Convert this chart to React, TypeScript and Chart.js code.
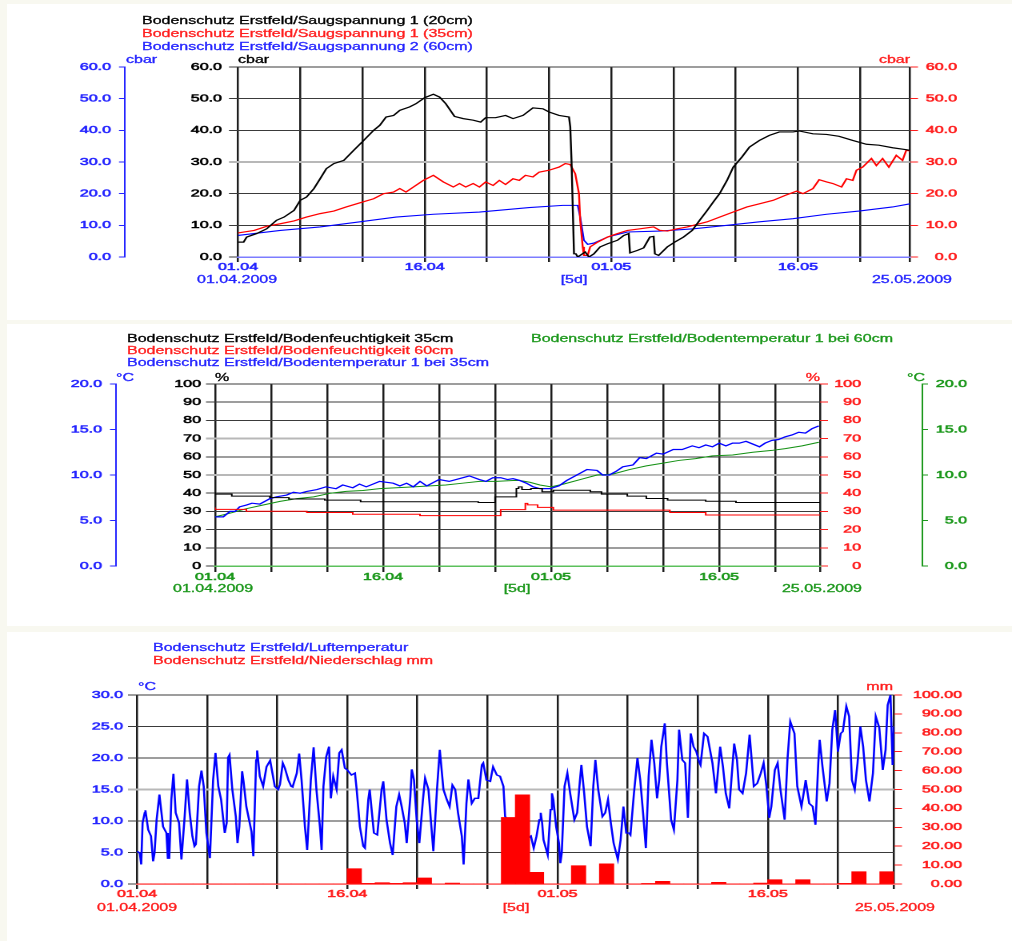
import React, { useEffect, useRef } from 'react';
import { Chart, registerables } from 'chart.js';

Chart.register(...registerables);

// ---------------- data ----------------
const xGridDays = [0, 5, 10, 15, 20, 25, 30, 35, 40, 45, 50, 54];
const xLabelDays = [0, 15, 30, 45];
const xLabelTexts = ['01.04', '16.04', '01.05', '16.05'];
const dateStartText = '01.04.2009';
const dateStepText = '[5d]';
const dateEndText = '25.05.2009';

const legendPanel1 = [
  'Bodenschutz Erstfeld/Saugspannung 1 (20cm)',
  'Bodenschutz Erstfeld/Saugspannung 1 (35cm)',
  'Bodenschutz Erstfeld/Saugspannung 2 (60cm)',
];
const legendPanel2 = [
  'Bodenschutz Erstfeld/Bodenfeuchtigkeit 35cm',
  'Bodenschutz Erstfeld/Bodenfeuchtigkeit 60cm',
  'Bodenschutz Erstfeld/Bodentemperatur 1 bei 35cm',
  'Bodenschutz Erstfeld/Bodentemperatur 1 bei 60cm',
];
const legendPanel3 = ['Bodenschutz Erstfeld/Luftemperatur', 'Bodenschutz Erstfeld/Niederschlag mm'];

// Panel 1: Saugspannung [day, cbar]
const saug20cm = [
  [0, 4.7], [0.45, 4.7], [0.7, 6.3], [1.5, 7.4], [2.3, 8.9], [3.1, 11.6], [3.7, 12.6], [4.5, 14.7], [5.0, 17.9],
  [5.5, 18.9], [6.1, 21.6], [6.6, 24.7], [7.1, 27.9], [7.7, 29.5], [8.5, 30.5], [9.3, 33.7], [10.1, 36.8],
  [10.9, 40.0], [11.4, 41.6], [11.9, 44.2], [12.5, 44.7], [13.0, 46.3], [13.8, 47.4], [14.3, 48.4], [15.0, 50.3],
  [15.7, 51.4], [16.2, 50.5], [16.7, 48.4], [17.4, 44.4], [18.1, 43.7], [18.9, 43.2], [19.5, 42.6], [19.9, 44.0],
  [20.7, 44.0], [21.5, 44.7], [22.1, 43.7], [22.9, 44.7], [23.7, 47.1], [24.5, 46.8], [25.0, 45.8], [25.8, 44.7],
  [26.6, 44.2], [26.7, 41.1], [26.8, 30.5], [27.0, 1.0], [27.15, 1.0], [27.3, 0], [27.9, 1.6], [28.2, 0],
  [28.6, 1.0], [29.1, 3.2], [29.7, 4.2], [30.5, 5.3], [31.0, 6.8], [31.4, 7.4], [31.5, 1.3], [32.1, 2.1],
  [32.6, 2.9], [33.1, 6.3], [33.4, 6.5], [33.5, 1.0], [33.8, 0.5], [34.5, 3.2], [35.1, 4.7], [35.8, 6.3],
  [36.5, 8.4], [37.1, 11.6], [37.7, 14.7], [38.2, 17.4], [38.7, 20.0], [39.3, 24.2], [39.8, 28.4], [40.5, 31.6],
  [41.1, 34.7], [41.9, 36.8], [42.7, 38.4], [43.5, 39.5], [44.6, 39.5], [45.1, 39.8], [46.2, 38.9], [47.3, 38.7],
  [48.3, 38.1], [49.4, 36.8], [50.5, 35.6], [51.5, 35.3], [52.6, 34.5], [53.7, 33.9], [54, 33.7],
];
const saug35cm = [
  [0, 7.6], [1.3, 8.4], [2.3, 9.7], [3.4, 10.5], [4.5, 11.4], [5.5, 12.6], [6.6, 13.7], [7.7, 14.5], [8.7, 15.8],
  [9.8, 17.1], [10.9, 18.4], [11.7, 20.0], [12.5, 20.5], [13.0, 21.6], [13.5, 20.5], [14.1, 22.1], [14.9, 24.2],
  [15.7, 25.8], [16.5, 23.7], [17.3, 22.1], [17.8, 23.2], [18.3, 22.1], [18.9, 23.2], [19.4, 22.1], [19.9, 23.7],
  [20.5, 22.6], [21.0, 24.2], [21.5, 22.9], [22.1, 24.7], [22.6, 24.2], [23.1, 25.8], [23.7, 25.3], [24.2, 26.8],
  [25.0, 27.4], [25.8, 28.4], [26.3, 29.5], [26.7, 29.2], [27.1, 26.3], [27.4, 20.0], [27.5, 11.6], [27.7, 3.2],
  [27.8, 0.5], [28.1, 0.5], [28.3, 3.2], [28.9, 4.7], [29.7, 6.3], [30.5, 7.4], [31.3, 8.4], [32.3, 8.9],
  [33.4, 9.5], [33.9, 8.4], [34.5, 8.2], [35.3, 8.9], [36.1, 9.5], [36.6, 10.0], [37.7, 11.1], [38.7, 12.6],
  [39.8, 14.2], [40.9, 15.8], [41.9, 16.8], [43.0, 17.9], [44.0, 19.5], [44.9, 20.8], [45.4, 20.0], [46.2, 21.6],
  [46.7, 24.4], [47.3, 23.7], [47.8, 23.2], [48.5, 22.1], [48.9, 24.7], [49.4, 24.2], [49.7, 27.4], [50.2, 28.4],
  [50.9, 31.1], [51.3, 28.9], [51.8, 31.1], [52.3, 28.4], [52.9, 32.1], [53.4, 30.5], [53.7, 33.7], [54, 33.5],
];
const saug60cm = [
  [0, 6.8], [3.4, 8.4], [6.6, 9.5], [9.8, 11.1], [12.7, 12.6], [15.7, 13.5], [19.4, 14.2], [23.4, 15.6],
  [26.1, 16.3], [27.3, 16.3], [27.5, 12.6], [27.8, 5.3], [28.1, 4.0], [28.6, 4.4], [29.7, 6.3], [31.3, 7.9],
  [33.9, 8.2], [36.6, 8.9], [39.3, 10.0], [41.9, 11.1], [44.6, 12.1], [47.3, 13.5], [49.9, 14.5], [52.6, 15.8],
  [54, 16.8],
];

// Panel 2: Bodenfeuchtigkeit [day, %] (stepped) and Bodentemperatur [day, °C]
const feuchte35cm = [
  [0, 40.6], [1.5, 39.5], [4.9, 38.4], [6.6, 37.6], [9.8, 36.8], [13.0, 36.2], [23.5, 35.3], [25.0, 34.9],
  [26.9, 38.0], [27.1, 42.6], [27.4, 43.5], [28.2, 42.0], [29.2, 42.6], [30.2, 40.8], [33.5, 41.6], [34.5, 40.8],
  [36.8, 39.5], [38.5, 38.4], [40.4, 37.1], [43.8, 36.2], [46.5, 35.6], [48.5, 34.9], [54, 34.9],
];
const feuchte60cm = [
  [0, 32.2], [2.8, 31.1], [8.2, 30.1], [12.3, 29.4], [18.3, 28.4], [25.5, 27.7], [27.7, 31.0], [27.9, 34.4],
  [28.8, 33.6], [30.2, 32.2], [40.6, 30.7], [43.8, 29.4], [49.1, 28.0], [54, 28.0],
];
const temp35cm = [
  [0, 5.4], [0.74, 5.4], [1.34, 6.0], [1.8, 6.0], [2.2, 6.5], [2.8, 6.7], [3.3, 6.9], [4.0, 6.8], [4.9, 7.4],
  [5.5, 7.6], [6.4, 7.8], [7.0, 8.1], [7.6, 8.0], [8.2, 8.2], [9.1, 8.4], [9.9, 8.7], [10.8, 8.5], [11.4, 8.9],
  [12.3, 8.6], [12.9, 9.0], [13.5, 8.7], [14.7, 9.3], [15.9, 9.1], [16.5, 8.8], [17.1, 9.1], [17.7, 8.7],
  [18.3, 9.3], [18.9, 8.8], [20.0, 9.5], [20.9, 9.3], [21.8, 9.6], [22.7, 9.9], [23.6, 9.5], [24.2, 9.3],
  [24.8, 9.7], [25.5, 9.7], [26.1, 9.5], [26.6, 9.6], [27.2, 9.4], [27.8, 9.1], [28.4, 8.7], [29.0, 8.5],
  [29.9, 8.5], [30.7, 8.8], [31.4, 9.4], [32.0, 9.8], [32.6, 10.2], [33.2, 10.6], [34.1, 10.5], [34.6, 10.0],
  [35.2, 10.0], [35.8, 10.4], [36.4, 10.9], [37.3, 11.1], [37.9, 11.9], [38.5, 11.8], [39.4, 12.4], [40.0, 12.3],
  [40.9, 12.8], [41.7, 12.8], [42.6, 13.2], [43.2, 13.0], [43.8, 13.3], [44.4, 13.1], [45.0, 13.5], [45.6, 13.2],
  [46.2, 13.5], [46.8, 13.5], [47.4, 13.7], [48.0, 13.4], [48.6, 13.1], [49.1, 13.5], [49.7, 13.8], [50.3, 13.9],
  [50.9, 14.2], [51.5, 14.4], [52.1, 14.7], [52.7, 14.6], [53.3, 15.1], [53.9, 15.4],
];
const temp60cm = [
  [0, 5.4], [1.34, 5.8], [2.8, 6.3], [4.3, 6.7], [5.8, 7.1], [7.3, 7.4], [8.8, 7.6], [10.3, 8.0], [11.7, 8.2],
  [13.2, 8.3], [14.7, 8.5], [16.2, 8.6], [17.7, 8.7], [19.2, 8.8], [20.6, 8.9], [22.1, 9.1], [23.6, 9.3],
  [25.1, 9.3], [26.6, 9.4], [27.2, 9.4], [28.1, 9.2], [29.0, 8.9], [30.0, 8.7], [31.1, 9.0], [32.6, 9.5],
  [34.1, 10.0], [35.5, 10.1], [37.0, 10.6], [38.5, 11.0], [40.0, 11.3], [41.4, 11.6], [42.9, 11.8], [44.4, 12.1],
  [46.2, 12.2], [48.0, 12.5], [49.7, 12.7], [50.9, 12.9], [52.4, 13.2], [53.9, 13.6],
];

// Panel 3: Lufttemperatur [day, °C] and daily Niederschlag [mm]
const luftTemp = [
  [0, 5.2], [0.2, 4.9], [0.3, 3.1], [0.4, 9.7], [0.55, 11.3], [0.6, 11.7], [0.8, 8.6], [1.0, 7.6], [1.15, 3.6],
  [1.25, 4.9], [1.4, 10.2], [1.6, 14.2], [1.67, 12.8], [1.86, 9.1], [2.1, 8.1], [2.2, 4.1], [2.3, 4.1],
  [2.45, 13.4], [2.6, 17.5], [2.76, 11.3], [3.0, 9.7], [3.17, 3.9], [3.4, 10.7], [3.57, 16.6], [3.76, 11.3],
  [3.95, 7.6], [4.1, 6.0], [4.2, 6.3], [4.43, 15.5], [4.6, 18.0], [4.76, 15.5], [4.95, 8.1], [5.2, 4.1],
  [5.43, 16.5], [5.6, 20.8], [5.8, 15.5], [6.0, 13.4], [6.26, 8.1], [6.4, 9.7], [6.5, 20.1], [6.6, 20.5],
  [6.8, 15.0], [7.05, 10.7], [7.17, 6.5], [7.3, 9.1], [7.5, 17.9], [7.6, 16.3], [7.8, 12.3], [8.17, 8.3],
  [8.3, 4.4], [8.5, 19.7], [8.57, 21.2], [8.76, 17.1], [9.0, 15.5], [9.24, 18.6], [9.5, 19.6], [9.83, 15.5],
  [10.07, 15.0], [10.2, 15.8], [10.4, 19.2], [10.55, 18.4], [10.8, 16.5], [11.0, 15.5], [11.1, 15.4],
  [11.4, 17.6], [11.57, 20.7], [11.74, 16.5], [11.98, 9.1], [12.14, 5.4], [12.4, 16.5], [12.6, 21.7],
  [12.8, 15.0], [13.05, 9.1], [13.17, 5.4], [13.3, 15.5], [13.5, 20.2], [13.7, 21.8], [13.83, 13.6], [14.0, 17.1],
  [14.24, 15.0], [14.43, 20.8], [14.6, 21.3], [14.83, 18.4], [15.0, 18.1], [15.3, 17.3], [15.55, 17.6],
  [15.67, 15.0], [15.9, 9.1], [16.14, 6.0], [16.26, 5.7], [16.5, 13.4], [16.6, 15.0], [16.76, 11.3], [16.9, 8.1],
  [17.14, 7.8], [17.45, 15.0], [17.57, 16.3], [17.8, 10.2], [18.05, 6.5], [18.24, 4.6], [18.5, 12.3],
  [18.7, 14.2], [18.88, 12.3], [19.1, 9.7], [19.24, 6.5], [19.5, 13.9], [19.6, 18.2], [19.76, 16.5],
  [19.95, 10.2], [20.14, 6.5], [20.4, 13.4], [20.55, 16.8], [20.79, 15.0], [21.0, 9.1], [21.14, 5.2],
  [21.4, 15.0], [21.6, 21.3], [21.86, 15.0], [22.1, 13.4], [22.3, 12.3], [22.5, 15.7], [22.7, 15.0],
  [22.9, 11.3], [23.17, 7.6], [23.3, 3.1], [23.5, 12.8], [23.64, 16.6], [23.88, 12.8], [24.1, 13.6],
  [24.35, 13.6], [24.6, 18.9], [24.7, 19.2], [24.93, 16.5], [25.2, 16.3], [25.4, 18.6], [25.67, 17.3],
  [25.9, 17.1], [26.14, 15.5], [26.26, 10.7], [26.5, 10.2], [26.9, 9.0], [27.3, 8.0], [27.7, 7.0], [28.1, 7.6],
  [28.3, 5.7], [28.5, 7.6], [28.7, 10.2], [28.8, 11.3], [28.9, 9.7], [29.0, 7.0], [29.3, 4.6], [29.5, 11.8],
  [29.6, 14.4], [29.7, 13.4], [29.9, 9.1], [30.1, 6.5], [30.2, 3.3], [30.3, 4.9], [30.5, 15.5], [30.7, 17.6],
  [30.9, 14.4], [31.2, 10.2], [31.4, 11.3], [31.6, 16.5], [31.7, 18.9], [31.9, 14.4], [32.1, 9.1], [32.36, 6.0],
  [32.55, 15.5], [32.7, 19.7], [32.9, 15.0], [33.2, 10.7], [33.4, 11.3], [33.6, 13.4], [33.8, 9.7], [34.0, 6.5],
  [34.3, 3.9], [34.5, 7.0], [34.7, 12.3], [34.9, 8.1], [35.1, 8.1], [35.2, 7.8], [35.45, 14.4], [35.7, 20.0],
  [35.9, 16.5], [36.1, 11.3], [36.3, 5.7], [36.5, 17.1], [36.7, 22.9], [36.9, 19.2], [37.1, 13.6], [37.25, 16.5],
  [37.4, 21.8], [37.65, 25.5], [37.8, 19.2], [38.1, 10.2], [38.3, 8.6], [38.55, 16.5], [38.67, 24.5],
  [38.9, 19.7], [39.1, 19.2], [39.3, 10.5], [39.5, 23.9], [39.7, 21.8], [39.9, 21.0], [40.1, 19.4], [40.2, 18.9],
  [40.45, 23.9], [40.7, 23.4], [41.05, 19.2], [41.3, 14.4], [41.45, 18.1], [41.6, 21.8], [41.8, 18.6],
  [42.0, 14.4], [42.25, 12.0], [42.4, 16.5], [42.6, 22.3], [42.8, 19.7], [42.95, 15.0], [43.2, 14.4],
  [43.45, 17.6], [43.7, 23.7], [43.8, 21.0], [44.0, 15.5], [44.25, 16.0], [44.5, 17.6], [44.7, 19.2],
  [44.9, 15.5], [45.1, 10.5], [45.25, 12.3], [45.5, 18.1], [45.7, 19.2], [45.9, 15.0], [46.2, 10.2],
  [46.4, 19.7], [46.6, 25.8], [46.9, 23.9], [47.1, 15.5], [47.4, 12.3], [47.6, 15.0], [47.7, 16.5],
  [47.95, 12.8], [48.2, 12.3], [48.4, 9.4], [48.6, 19.2], [48.7, 22.9], [48.9, 18.6], [49.2, 13.1], [49.4, 16.0],
  [49.6, 24.5], [49.8, 27.6], [50.0, 21.0], [50.2, 23.9], [50.35, 24.2], [50.6, 28.2], [50.8, 26.6], [51.0, 16.5],
  [51.2, 15.0], [51.4, 19.2], [51.6, 25.0], [51.8, 21.8], [52.0, 16.5], [52.25, 13.1], [52.5, 17.6],
  [52.7, 26.6], [52.95, 24.8], [53.2, 18.1], [53.4, 21.3], [53.55, 28.4], [53.75, 30.0], [53.9, 18.9], [54.0, 25.0],
];
// one value per day, starting 01.04
const niederschlagMm = [
  0, 0, 0, 0, 0, 0, 0, 0, 0, 0, 0, 0, 0, 0, 0,
  8.1, 0.35, 0.7, 0.35, 0.7, 3.2, 0, 0.5, 0, 0, 0,
  35.2, 47.2, 6.2, 0, 0, 9.7, 0, 10.7, 0, 0, 0.2, 1.4,
  0, 0, 0, 0.9, 0, 0, 0.5, 2.3, 0, 2.3, 0, 0, 0.35, 6.5, 0, 6.5,
];

// ---------------- style ----------------
const S = 1.6; // the source picture is stretched horizontally
const CANVAS_W = 632;
const FONT_FAMILY = '"Liberation Sans", Arial, Helvetica, sans-serif';
const BLUE = '#2525ff';
const RED = '#ff1e1e';
const GREEN = '#1c981c';
const BLACK = '#000000';
const GRID = '#3a3a3a';
const GRID_HI = '#b8b8b8';
const VGRID = '#1c1c1c';
const tickFont = { family: FONT_FAMILY, size: 10, lineHeight: 1.2 };
const TEXT_STROKE = 0.55;

const pts = (arr: number[][]) => arr.map(([x, y]) => ({ x, y }));

function makeX(labelColor: string, borderColor: string, tickLen: number, height: number) {
  return {
    type: 'linear',
    position: 'bottom',
    min: 0,
    max: 54,
    offset: false,
    afterBuildTicks: (s: any) => {
      s.ticks = xGridDays.map((v) => ({ value: v }));
    },
    afterFit: (s: any) => {
      s.height = height;
    },
    grid: { color: VGRID, lineWidth: 1.25, tickLength: tickLen, drawTicks: true, offset: false },
    border: { display: true, color: borderColor, width: 1.5 },
    ticks: {
      autoSkip: false,
      maxRotation: 0,
      minRotation: 0,
      padding: 0,
      color: labelColor,
      textStrokeColor: labelColor,
      textStrokeWidth: TEXT_STROKE,
      font: { ...tickFont, lineHeight: 1 },
      callback: (v: any) => {
        const i = xLabelDays.indexOf(Number(v));
        return i >= 0 ? xLabelTexts[i] : '';
      },
    },
  };
}

function makeY(o: any) {
  const hi: number[] = o.highlight || [];
  const grid = o.onArea
    ? {
        drawOnChartArea: true,
        drawTicks: true,
        tickLength: o.tickLen,
        color: (c: any) => (c.tick && c.tick.value === o.min ? 'rgba(0,0,0,0)' : hi.includes(c.tick && c.tick.value) ? GRID_HI : GRID),
        tickColor: (c: any) => (hi.includes(c.tick && c.tick.value) ? GRID_HI : GRID),
        lineWidth: (c: any) => (hi.includes(c.tick && c.tick.value) ? 2 : 1),
      }
    : { drawOnChartArea: false, drawTicks: true, tickLength: o.tickLen, color: o.tickColor, lineWidth: 1 };
  return {
    type: 'linear',
    position: o.pos,
    weight: o.weight,
    min: o.min,
    max: o.max,
    afterFit: (s: any) => {
      s.width = o.width;
    },
    grid,
    border: o.borderColor ? { display: true, color: o.borderColor, width: 1 } : { display: false },
    ticks: {
      stepSize: o.step,
      autoSkip: false,
      padding: o.padding === undefined ? 3 : o.padding,
      crossAlign: o.far ? 'far' : 'near',
      color: o.color,
      textStrokeColor: o.color,
      textStrokeWidth: TEXT_STROKE,
      font: tickFont,
      callback: (v: any) => Number(v).toFixed(o.decimals),
    },
  };
}

function lineSet(label: string, data: number[][], color: string, yAxisID: string, extra: any = {}) {
  return {
    type: 'line',
    label,
    data: pts(data),
    borderColor: color,
    backgroundColor: color,
    borderWidth: 1.2,
    pointRadius: 0,
    tension: 0,
    fill: false,
    xAxisID: 'x',
    yAxisID,
    ...extra,
  };
}

const baseOptions = (padding: any, scales: any) => ({
  responsive: false,
  animation: false,
  devicePixelRatio: 2,
  events: [],
  layout: { padding },
  plugins: { legend: { display: false }, tooltip: { enabled: false }, title: { display: false } },
  scales,
});

function config1() {
  return {
    type: 'line',
    data: {
      datasets: [
        lineSet(legendPanel1[0], saug20cm, BLACK, 'y'),
        lineSet(legendPanel1[1], saug35cm, '#ff0000', 'yR'),
        lineSet(legendPanel1[2], saug60cm, '#0000ff', 'yB', { borderWidth: 1.1 }),
      ],
    },
    options: baseOptions(
      { left: 20, right: CANVAS_W - 598.125, top: 63, bottom: 33 },
      {
        x: makeX(BLUE, '#7c7cff', 5, 30),
        y: makeY({ pos: 'left', weight: 1, min: 0, max: 60, step: 10, decimals: 1, width: 70.625, tickLen: 5.625, padding: 4.4, color: BLACK, onArea: true, highlight: [30] }),
        yB: makeY({ pos: 'left', weight: 2, min: 0, max: 60, step: 10, decimals: 1, width: 58.125, tickLen: 3.75, padding: 5, color: BLUE, tickColor: BLUE, borderColor: BLUE }),
        yR: makeY({ pos: 'right', weight: 1, min: 0, max: 60, step: 10, decimals: 1, width: 29.375, tickLen: 5, color: RED, tickColor: RED, far: true }),
      }
    ),
  };
}

function config2() {
  return {
    type: 'line',
    data: {
      datasets: [
        lineSet(legendPanel2[0], feuchte35cm, BLACK, 'yP', { stepped: 'after', borderWidth: 1 }),
        lineSet(legendPanel2[1], feuchte60cm, '#ff0000', 'yPR', { stepped: 'after', borderWidth: 1 }),
        lineSet(legendPanel2[2], temp35cm, '#0000ff', 'yBC', { borderWidth: 1.2 }),
        lineSet(legendPanel2[3], temp60cm, '#139013', 'yGC', { borderWidth: 1 }),
      ],
    },
    options: baseOptions(
      { left: 20, right: CANVAS_W - 604.375, top: 60, bottom: 30 },
      {
        x: makeX(GREEN, '#5cc05c', 6, 30),
        yP: makeY({ pos: 'left', weight: 1, min: 0, max: 100, step: 10, decimals: 0, width: 61.875, tickLen: 5.625, padding: 3.1, color: BLACK, onArea: true, highlight: [50, 70] }),
        yBC: makeY({ pos: 'left', weight: 2, min: 0, max: 20, step: 5, decimals: 1, width: 52.5, tickLen: 3.75, padding: 5, color: BLUE, tickColor: BLUE, borderColor: BLUE }),
        yPR: makeY({ pos: 'right', weight: 1, min: 0, max: 100, step: 10, decimals: 0, width: 25.625, tickLen: 5, color: RED, tickColor: RED, far: true }),
        ySpacer: {
          type: 'linear',
          position: 'right',
          weight: 2,
          display: true,
          afterFit: (s: any) => {
            s.width = 38.125;
          },
          grid: { display: false, drawTicks: false },
          border: { display: false },
          ticks: { display: false },
        },
        yGC: makeY({ pos: 'right', weight: 3, min: 0, max: 20, step: 5, decimals: 1, width: 28.125, tickLen: 3.75, color: GREEN, tickColor: GREEN, borderColor: GREEN, far: true }),
      }
    ),
  };
}

function config3() {
  return {
    type: 'line',
    data: {
      datasets: [
        {
          type: 'bar',
          label: legendPanel3[1],
          data: niederschlagMm.map((v, i) => ({ x: i + 0.5, y: v })),
          backgroundColor: '#ff0000',
          borderWidth: 0,
          barPercentage: 1,
          categoryPercentage: 1,
          xAxisID: 'x',
          yAxisID: 'yMm',
        },
        lineSet(legendPanel3[0], luftTemp, '#0000ff', 'yT', { borderWidth: 1.3 }),
      ],
    },
    options: baseOptions(
      { left: 25.625, right: CANVAS_W - 601.25, top: 63, bottom: 27 },
      {
        x: makeX(RED, '#ff6e6e', 5, 30),
        yT: makeY({ pos: 'left', weight: 1, min: 0, max: 30, step: 5, decimals: 1, width: 60, tickLen: 5.625, padding: 3.125, color: BLUE, onArea: true, highlight: [15] }),
        yMm: makeY({ pos: 'right', weight: 1, min: 0, max: 100, step: 10, decimals: 2, width: 42.5, tickLen: 5, color: RED, tickColor: RED, far: true }),
      }
    ),
  };
}

function ChartCanvas({ top, height, make }: { top: number; height: number; make: () => any }) {
  const ref = useRef<HTMLCanvasElement | null>(null);
  useEffect(() => {
    if (!ref.current) return;
    const chart = new Chart(ref.current, make());
    return () => chart.destroy();
  }, []);
  return <canvas ref={ref} width={CANVAS_W} height={height} style={{ position: 'absolute', left: 0, top }} />;
}

// x: page px, y: baseline page px
function Txt({ x, y, c, t, a }: { x: number; y: number; c: string; t: string; a?: string }) {
  const tr = a === 'end' ? 'translateX(-100%)' : a === 'middle' ? 'translateX(-50%)' : undefined;
  return (
    <div
      style={{
        position: 'absolute',
        left: x / S,
        top: y - 8.5,
        color: c,
        font: `10px ${FONT_FAMILY}`,
        lineHeight: '10px',
        whiteSpace: 'nowrap',
        WebkitTextStroke: `0.3px ${c}`,
        transform: tr,
      }}
    >
      {t}
    </div>
  );
}

export default function App() {
  return (
    <div style={{ position: 'absolute', left: 0, top: 0, width: 1012, height: 941, background: '#f8f8f0', overflow: 'hidden' }}>
      <div style={{ position: 'absolute', left: 7, top: 4, width: 1005, height: 316, background: '#ffffff' }} />
      <div style={{ position: 'absolute', left: 7, top: 324, width: 1005, height: 302, background: '#ffffff' }} />
      <div style={{ position: 'absolute', left: 7, top: 632, width: 1005, height: 309, background: '#ffffff' }} />
      <div
        style={{
          position: 'absolute',
          left: 0,
          top: 0,
          width: 1012 / S,
          height: 941,
          transform: `scaleX(${S})`,
          transformOrigin: '0 0',
        }}
      >
        <ChartCanvas top={4} height={316} make={config1} />
        <ChartCanvas top={324} height={302} make={config2} />
        <ChartCanvas top={632} height={309} make={config3} />

        {/* panel 1 */}
        <Txt x={142} y={24} c={BLACK} t={legendPanel1[0]} />
        <Txt x={142} y={37} c={RED} t={legendPanel1[1]} />
        <Txt x={142} y={50} c={BLUE} t={legendPanel1[2]} />
        <Txt x={126} y={63} c={BLUE} t="cbar" />
        <Txt x={238} y={63} c={BLACK} t="cbar" />
        <Txt x={910} y={63} c={RED} t="cbar" a="end" />
        <Txt x={197} y={283} c={BLUE} t={dateStartText} />
        <Txt x={574} y={283} c={BLUE} t={dateStepText} a="middle" />
        <Txt x={952} y={283} c={BLUE} t={dateEndText} a="end" />

        {/* panel 2 */}
        <Txt x={127} y={342} c={BLACK} t={legendPanel2[0]} />
        <Txt x={127} y={354} c={RED} t={legendPanel2[1]} />
        <Txt x={127} y={366} c={BLUE} t={legendPanel2[2]} />
        <Txt x={531} y={342} c={GREEN} t={legendPanel2[3]} />
        <Txt x={116} y={381} c={BLUE} t="°C" />
        <Txt x={215} y={381} c={BLACK} t="%" />
        <Txt x={820} y={381} c={RED} t="%" a="end" />
        <Txt x={907} y={381} c={GREEN} t="°C" />
        <Txt x={173} y={592} c={GREEN} t={dateStartText} />
        <Txt x={517} y={592} c={GREEN} t={dateStepText} a="middle" />
        <Txt x={862} y={592} c={GREEN} t={dateEndText} a="end" />

        {/* panel 3 */}
        <Txt x={153} y={651} c={BLUE} t={legendPanel3[0]} />
        <Txt x={153} y={664} c={RED} t={legendPanel3[1]} />
        <Txt x={138} y={690} c={BLUE} t="°C" />
        <Txt x={893} y={690} c={RED} t="mm" a="end" />
        <Txt x={97} y={911} c={RED} t={dateStartText} />
        <Txt x={516} y={911} c={RED} t={dateStepText} a="middle" />
        <Txt x={935} y={911} c={RED} t={dateEndText} a="end" />
      </div>
    </div>
  );
}
